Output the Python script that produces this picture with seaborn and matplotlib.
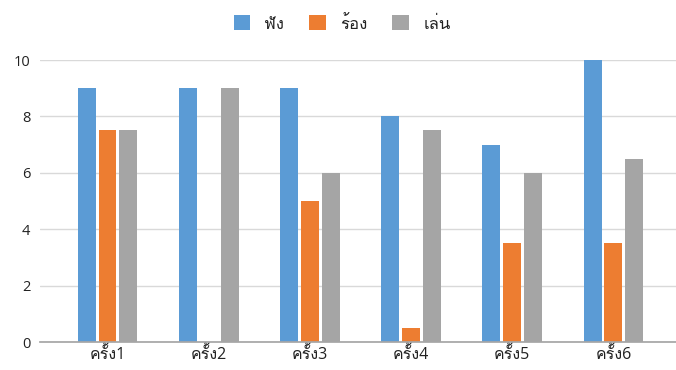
import matplotlib
matplotlib.use("Agg")
import matplotlib.pyplot as plt
import seaborn as sns
import pandas as pd

categories = ["ครั้ง1", "ครั้ง2", "ครั้ง3", "ครั้ง4", "ครั้ง5", "ครั้ง6"]
series_names = ["ฟัง", "ร้อง", "เล่น"]
listen = [9, 9, 9, 8, 7, 10]
sing = [7.5, 0, 5, 0.5, 3.5, 3.5]
play = [7.5, 9, 6, 7.5, 6, 6.5]
colors = ["#5B9BD5", "#ED7D31", "#A5A5A5"]

rows = []
for name, vals in zip(series_names, [listen, sing, play]):
    for c, v in zip(categories, vals):
        rows.append({"cat": c, "series": name, "value": v})
df = pd.DataFrame(rows)

sns.set_theme(style="white")
plt.rcParams['font.family'] = ['Open Sans', 'Loma', 'Noto Sans Thai Looped', 'DejaVu Sans']

W, H = 676, 370
fig = plt.figure(figsize=(W / 100, H / 100), dpi=100)
ax = fig.add_axes([40 / W, 1 - 342 / H, 636 / W, 282 / H])
sns.barplot(data=df, x="cat", y="value", hue="series", palette=colors,
            saturation=1, width=0.62, gap=0.14, linewidth=0, ax=ax, legend=True)
ax.set_ylim(0, 10)
ax.set_yticks([0, 2, 4, 6, 8, 10])
ax.yaxis.grid(True, color="#D9D9D9", linewidth=1)
ax.set_axisbelow(True)
for s in ["top", "right", "left"]:
    ax.spines[s].set_visible(False)
ax.spines["bottom"].set_color("#A6A6A6")
ax.set_xlabel("")
ax.set_ylabel("")
ax.tick_params(axis="y", length=0, labelsize=10.5, colors="#222222", pad=7)
ax.tick_params(axis="x", length=0, labelsize=11.5, colors="#222222", pad=3)
ax.set_xlim(-0.667, 5.618)
ax.legend(loc="center", bbox_to_anchor=(342 / W, 1 - 24 / H), bbox_transform=fig.transFigure,
          ncol=3, frameon=False, fontsize=12, handlelength=1.0, handleheight=1.0,
          handletextpad=0.85, columnspacing=1.5, labelcolor="#222222")
fig.savefig("out.png", dpi=100)
